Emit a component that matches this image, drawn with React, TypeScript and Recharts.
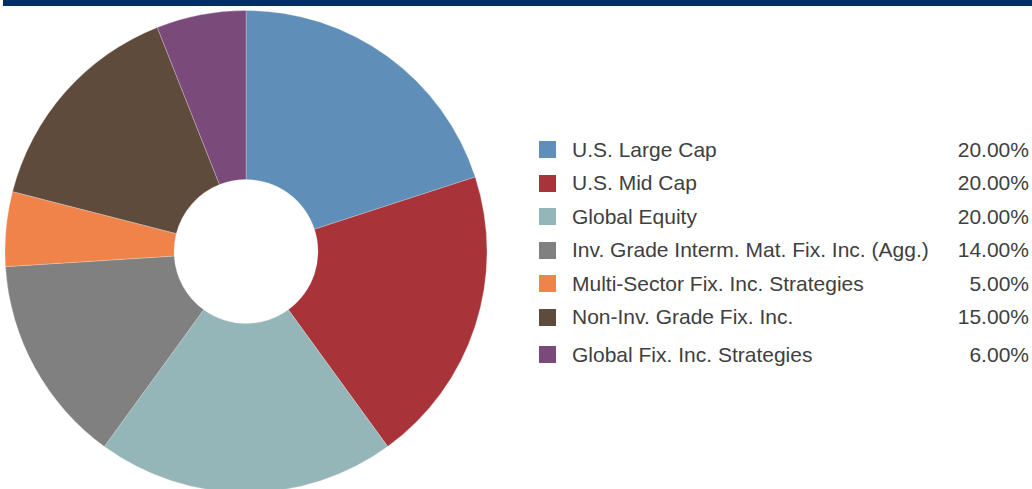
import React from "react";
import { PieChart, Pie, Cell, Legend } from "recharts";

const categories = [
  "U.S. Large Cap",
  "U.S. Mid Cap",
  "Global Equity",
  "Inv. Grade Interm. Mat. Fix. Inc. (Agg.)",
  "Multi-Sector Fix. Inc. Strategies",
  "Non-Inv. Grade Fix. Inc.",
  "Global Fix. Inc. Strategies",
];
const weights = [20, 20, 20, 14, 5, 15, 6];
const colors = ["#5f8fb8", "#a8343a", "#94b6b9", "#808080", "#f0834a", "#5e4b3c", "#7a4a7a"];

const data = categories.map((name, i) => ({ name, value: weights[i] }));

const LegendRows = () => (
  <div style={{ width: 490, fontFamily: "'Liberation Sans', Arial, sans-serif", fontSize: 21, color: "#404040" }}>
    {data.map((d, i) => (
      <div
        key={d.name}
        style={{
          display: "flex",
          alignItems: "center",
          height: 33.5,
          marginTop: i === 6 ? 4 : 0,
        }}
      >
        <div style={{ width: 17, height: 17, background: colors[i], marginRight: 16 }} />
        <div style={{ flex: 1, whiteSpace: "nowrap" }}>{d.name}</div>
        <div>{d.value.toFixed(2)}%</div>
      </div>
    ))}
  </div>
);

export default function App() {
  return (
    <div style={{ position: "fixed", top: 0, left: 0, width: 1032, height: 489, background: "#fff", overflow: "hidden" }}>
      <div style={{ position: "absolute", top: 0, left: 3, right: 0, height: 6, background: "#00305f" }} />
      <PieChart width={1032} height={489} margin={{ top: 0, right: 0, bottom: 0, left: 0 }}>
        <Pie
          data={data}
          dataKey="value"
          nameKey="name"
          cx={246}
          cy={251.5}
          innerRadius={72}
          outerRadius={241}
          startAngle={90}
          endAngle={-270}
          stroke="#e8e8e8"
          strokeWidth={0.3}
          isAnimationActive={false}
        >
          {data.map((d, i) => (
            <Cell key={d.name} fill={colors[i]} />
          ))}
        </Pie>
        <Legend
          content={<LegendRows />}
          wrapperStyle={{ position: "absolute", left: 539, top: 133, width: 490 }}
        />
      </PieChart>
    </div>
  );
}
